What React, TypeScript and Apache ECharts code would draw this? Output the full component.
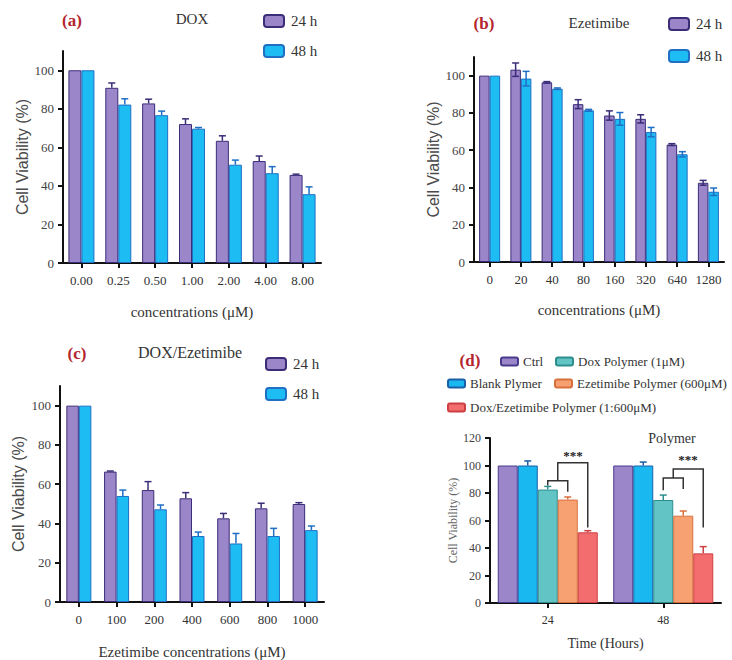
import React, { useEffect, useRef } from "react";
import * as echarts from "echarts";

const SERIF = "'Liberation Serif', 'Times New Roman', serif";
const SANS = "'Liberation Sans', Arial, sans-serif";

// ---------- Data ----------
// (a) DOX
const doseA = ["0.00", "0.25", "0.50", "1.00", "2.00", "4.00", "8.00"];
const a24 = [100, 90.9, 82.8, 72.1, 63.4, 52.9, 45.7];
const a24Err = [0, 2.5, 2.2, 2.7, 2.6, 2.6, 0.4];
const a48 = [100, 82.2, 76.7, 69.7, 51.0, 46.6, 35.7];
const a48Err = [0, 3.0, 2.1, 0.6, 2.4, 3.4, 3.8];

// (b) Ezetimibe
const doseB = ["0", "20", "40", "80", "160", "320", "640", "1280"];
const b24 = [100, 103.2, 96.4, 84.7, 78.6, 76.8, 63.0, 42.5];
const b24Err = [0, 3.6, 0.4, 2.4, 2.5, 2.2, 0.5, 1.3];
const b48 = [100, 98.4, 93.0, 81.4, 76.8, 69.7, 57.8, 37.7];
const b48Err = [0, 3.9, 0.4, 0.5, 3.4, 2.5, 1.4, 2.0];

// (c) DOX/Ezetimibe
const doseC = ["0", "100", "200", "400", "600", "800", "1000"];
const c24 = [100, 66.4, 57.0, 52.8, 42.6, 47.7, 49.9];
const c24Err = [0, 0.3, 4.3, 2.9, 2.5, 2.6, 0.7];
const c48 = [100, 54.0, 47.2, 33.6, 29.8, 33.6, 36.6];
const c48Err = [0, 3.0, 2.2, 2.0, 5.1, 3.9, 2.1];

// (d) Polymer
const timeD = ["24", "48"];
const groupNamesD = [
  "Ctrl",
  "Blank Plymer",
  "Dox Polymer (1μM)",
  "Ezetimibe Polymer (600μM)",
  "Dox/Ezetimibe Polymer (1:600μM)",
];
const ctrlD = [100, 100];
const ctrlErrD = [0, 0];
const blankD = [100, 100];
const blankErrD = [3.3, 2.5];
const doxPD = [82.5, 74.9];
const doxPErrD = [2.3, 3.6];
const ezePD = [75.2, 63.5];
const ezePErrD = [1.9, 3.4];
const comboPD = [51.4, 36.1];
const comboPErrD = [1.2, 4.9];

// significance brackets (values in % units)
const bracketInnerTop = [89, 91];
const bracketInnerLeftEnd = [85.5, 82];
const bracketInnerRightEnd = [81, 83];
const bracketOuterTop = [102, 97.5];
const bracketOuterRightEnd = [55, 55];
const starLevel = [108, 104.5];

const yTicks110 = [0, 20, 40, 60, 80, 100];

// ---------- Styles ----------
const PURPLE = "#9c86ca";
const PURPLE_EDGE = "#3b2d78";
const CYAN = "#1dbdf4";
const CYAN_EDGE = "#1f6fc4";
const D_COLORS = ["#9c86ca", "#19b8f0", "#62c4c4", "#f7a172", "#f36d6f"];
const D_EDGES = ["#4a3a8c", "#1a5fa8", "#2e8e8e", "#d8703c", "#cc3f42"];
const RED_LABEL = "#b3262e";

const BW_A = 13;
const BW_B = 10.5;
const BW_C = 12.5;
const BW_D = 20;

function errSeries(
  axis: number,
  values: number[],
  errs: number[],
  offset: number,
  color: string,
  twoSided: boolean
) {
  return {
    type: "custom",
    xAxisIndex: axis,
    yAxisIndex: axis,
    z: 5,
    silent: true,
    itemStyle: { color },
    data: values.map((v, i) => [i, v, errs[i]]),
    renderItem: (params: any, api: any) => {
      const i = api.value(0);
      const v = api.value(1);
      const e = api.value(2);
      if (!e) return { type: "group", children: [] };
      const top = api.coord([i, v + e]);
      const bot = api.coord([i, twoSided ? v - e : v]);
      const x = top[0] + offset;
      const cap = 3.5;
      const style = { stroke: color, lineWidth: 1.5 };
      const children: any[] = [
        { type: "line", shape: { x1: x, y1: bot[1], x2: x, y2: top[1] }, style },
        { type: "line", shape: { x1: x - cap, y1: top[1], x2: x + cap, y2: top[1] }, style },
      ];
      if (twoSided) {
        children.push({
          type: "line",
          shape: { x1: x - cap, y1: bot[1], x2: x + cap, y2: bot[1] },
          style,
        });
      }
      return { type: "group", children };
    },
  };
}

function barSeries(
  name: string,
  axis: number,
  data: number[],
  width: number,
  color: string,
  edge: string
) {
  return {
    type: "bar",
    name,
    xAxisIndex: axis,
    yAxisIndex: axis,
    data,
    barWidth: width,
    barGap: "0%",
    itemStyle: { color, borderColor: edge, borderWidth: 1 },
  };
}

function xAxis(idx: number, data: string[], name: string, nameGap: number, fs = 13, nfs = 15) {
  return {
    type: "category",
    gridIndex: idx,
    data,
    axisLine: { show: true, lineStyle: { color: "#111", width: 2 } },
    axisTick: {
      show: true,
      interval: 0,
      alignWithLabel: true,
      length: 5,
      lineStyle: { color: "#111", width: 2 },
    },
    axisLabel: { interval: 0, fontFamily: SERIF, fontSize: fs, color: "#333", margin: 11 },
    name,
    nameLocation: "middle",
    nameGap,
    nameTextStyle: { fontFamily: SERIF, fontSize: nfs, color: "#333" },
  };
}

function yAxis110(idx: number, nameGap: number) {
  return {
    type: "value",
    gridIndex: idx,
    min: 0,
    max: 110,
    splitLine: { show: false },
    axisLine: { show: true, lineStyle: { color: "#111", width: 2 } },
    axisTick: { show: true, length: 5, lineStyle: { color: "#111", width: 2 }, customValues: yTicks110 },
    axisLabel: { fontFamily: SERIF, fontSize: 13, color: "#444", margin: 9, customValues: yTicks110 },
    name: "Cell Viability (%)",
    nameLocation: "middle",
    nameGap,
    nameTextStyle: { fontFamily: SANS, fontSize: 16, color: "#4a4a4a" },
  };
}

function legendABC(left: number, top: number, gap: number) {
  return {
    orient: "vertical",
    left,
    top,
    padding: 0,
    itemGap: gap,
    itemWidth: 20,
    itemHeight: 12,
    icon: "roundRect",
    selectedMode: false,
    data: ["24 h", "48 h"],
    textStyle: { fontFamily: SERIF, fontSize: 15, color: "#333", padding: [0, 0, 0, 2] },
  };
}

function legendD(name: string, left: number, top: number) {
  return {
    left,
    top,
    padding: 0,
    itemWidth: 17,
    itemHeight: 8,
    icon: "roundRect",
    selectedMode: false,
    data: [name],
    textStyle: { fontFamily: SERIF, fontSize: 13, color: "#333" },
  };
}

function bracketSeries() {
  return {
    type: "custom",
    xAxisIndex: 3,
    yAxisIndex: 3,
    z: 6,
    silent: true,
    itemStyle: { color: "#333" },
    data: timeD.map((_, i) => [
      i,
      bracketInnerTop[i],
      bracketInnerLeftEnd[i],
      bracketInnerRightEnd[i],
      bracketOuterTop[i],
      bracketOuterRightEnd[i],
      starLevel[i],
    ]),
    renderItem: (params: any, api: any) => {
      const i = api.value(0);
      const cx = api.coord([i, 0])[0];
      const y = (v: number) => api.coord([i, v])[1];
      const xL = cx + 0 * BW_D; // Dox Polymer bar (index 2)
      const xR = cx + 1 * BW_D; // Ezetimibe Polymer bar (index 3)
      const xRed = cx + 2 * BW_D; // Dox/Ezetimibe bar (index 4)
      const mid = (xL + xR) / 2;
      const style = { stroke: "#333", lineWidth: 1.5, fill: "none" };
      return {
        type: "group",
        children: [
          {
            type: "polyline",
            shape: {
              points: [
                [xL, y(api.value(2))],
                [xL, y(api.value(1))],
                [xR, y(api.value(1))],
                [xR, y(api.value(3))],
              ],
            },
            style,
          },
          {
            type: "polyline",
            shape: {
              points: [
                [mid, y(api.value(1))],
                [mid, y(api.value(4))],
                [xRed, y(api.value(4))],
                [xRed, y(api.value(5))],
              ],
            },
            style,
          },
          {
            type: "text",
            x: Math.round((mid + xRed) / 2),
            y: Math.round(y(api.value(6))),
            style: {
              text: "***",
              fill: "#222",
              font: `bold 13px ${SERIF}`,
              align: "center",
              verticalAlign: "middle",
            },
          },
        ],
      };
    },
  };
}

function label(text: string, x: number, y: number, size: number, color: string, bold = false) {
  return {
    type: "text",
    x,
    y,
    style: {
      text,
      fill: color,
      font: `${bold ? "bold " : ""}${size}px ${SERIF}`,
      align: "center",
      verticalAlign: "middle",
    },
  };
}

function buildOption() {
  const dData = [ctrlD, blankD, doxPD, ezePD, comboPD];
  const dErr = [ctrlErrD, blankErrD, doxPErrD, ezePErrD, comboPErrD];
  const series: any[] = [
    barSeries("24 h", 0, a24, BW_A, PURPLE, PURPLE_EDGE),
    barSeries("48 h", 0, a48, BW_A, CYAN, CYAN_EDGE),
    errSeries(0, a24, a24Err, -BW_A / 2, PURPLE_EDGE, false),
    errSeries(0, a48, a48Err, BW_A / 2, CYAN_EDGE, false),

    barSeries("24 h", 1, b24, BW_B, PURPLE, PURPLE_EDGE),
    barSeries("48 h", 1, b48, BW_B, CYAN, CYAN_EDGE),
    errSeries(1, b24, b24Err, -BW_B / 2, PURPLE_EDGE, true),
    errSeries(1, b48, b48Err, BW_B / 2, CYAN_EDGE, true),

    barSeries("24 h", 2, c24, BW_C, PURPLE, PURPLE_EDGE),
    barSeries("48 h", 2, c48, BW_C, CYAN, CYAN_EDGE),
    errSeries(2, c24, c24Err, -BW_C / 2, PURPLE_EDGE, false),
    errSeries(2, c48, c48Err, BW_C / 2, CYAN_EDGE, false),
  ];
  groupNamesD.forEach((n, k) => {
    series.push(barSeries(n, 3, dData[k], BW_D, D_COLORS[k], D_EDGES[k]));
  });
  groupNamesD.forEach((n, k) => {
    series.push(errSeries(3, dData[k], dErr[k], (k - 2) * BW_D, D_EDGES[k], false));
  });
  series.push(bracketSeries());

  return {
    animation: false,
    backgroundColor: "#ffffff",
    grid: [
      { left: 63, top: 51, width: 258, height: 212 },
      { left: 474, top: 57, width: 250, height: 205 },
      { left: 60, top: 386, width: 264, height: 216 },
      { left: 490, top: 438, width: 231, height: 165 },
    ],
    xAxis: [
      xAxis(0, doseA, "concentrations (μM)", 41),
      xAxis(1, doseB, "concentrations (μM)", 40),
      xAxis(2, doseC, "Ezetimibe concentrations (μM)", 42),
      xAxis(3, timeD, "Time (Hours)", 33, 12, 14),
    ],
    yAxis: [
      yAxis110(0, 30),
      yAxis110(1, 32),
      yAxis110(2, 34),
      {
        type: "value",
        gridIndex: 3,
        min: 0,
        max: 120,
        interval: 20,
        splitLine: { show: false },
        axisLine: { show: true, lineStyle: { color: "#111", width: 2 } },
        axisTick: { show: true, length: 5, lineStyle: { color: "#111", width: 2 } },
        axisLabel: { fontFamily: SERIF, fontSize: 12, color: "#444", margin: 9 },
        name: "Cell Viability (%)",
        nameLocation: "middle",
        nameGap: 31,
        nameTextStyle: { fontFamily: SERIF, fontSize: 12, color: "#666" },
      },
    ],
    legend: [
      legendABC(263, 13.5, 15),
      legendABC(668, 16.5, 17),
      legendABC(265, 356.5, 15),
      legendD(groupNamesD[0], 500, 355),
      legendD(groupNamesD[2], 555, 355),
      legendD(groupNamesD[1], 447, 377),
      legendD(groupNamesD[3], 554, 377),
      legendD(groupNamesD[4], 447, 401),
    ],
    graphic: [
      label("(a)", 72, 20, 17, RED_LABEL, true),
      label("DOX", 192, 19, 15, "#333"),
      label("(b)", 484, 23, 17, RED_LABEL, true),
      label("Ezetimibe", 599, 23, 15, "#333"),
      label("(c)", 77, 353, 17, RED_LABEL, true),
      label("DOX/Ezetimibe", 190, 352, 16, "#333"),
      label("(d)", 470, 360, 17, RED_LABEL, true),
      label("Polymer", 672, 438, 14, "#333"),
    ],
    series,
  };
}

export default function App() {
  const ref = useRef<HTMLDivElement>(null);
  useEffect(() => {
    const chart = echarts.init(ref.current!, null, { renderer: "svg" });
    chart.setOption(buildOption() as any);
    return () => chart.dispose();
  }, []);
  return (
    <div
      ref={ref}
      style={{ position: "absolute", left: 0, top: 0, width: 732, height: 660, background: "#fff" }}
    />
  );
}
